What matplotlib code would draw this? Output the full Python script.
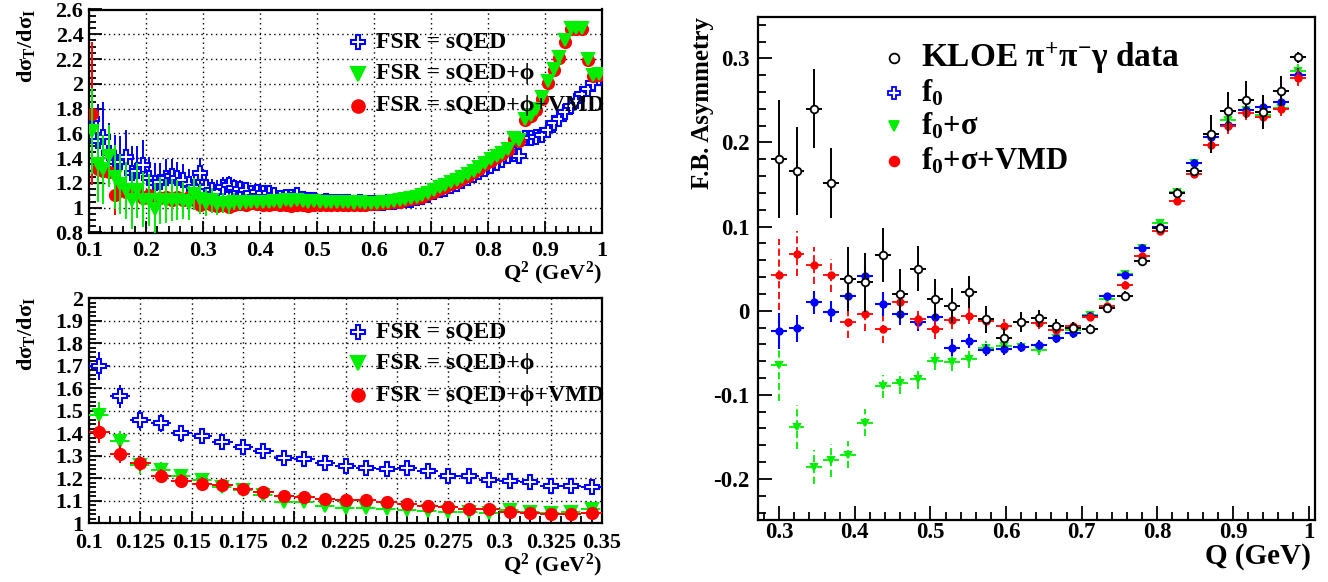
import numpy as np
import matplotlib
matplotlib.use('Agg')
import matplotlib.pyplot as plt
from matplotlib.ticker import MultipleLocator, FuncFormatter
from matplotlib.lines import Line2D

plt.rcParams['font.family'] = ['Liberation Serif', 'DejaVu Serif']
plt.rcParams['font.weight'] = 'bold'
plt.rcParams['mathtext.fontset'] = 'custom'
plt.rcParams['mathtext.rm'] = 'Liberation Serif:bold'
plt.rcParams['mathtext.it'] = 'Liberation Serif:bold'
plt.rcParams['mathtext.bf'] = 'Liberation Serif:bold'
plt.rcParams['mathtext.default'] = 'rm'

# ---------------- top-left panel: dsigma_T/dsigma_I vs Q^2 (0.1 - 1.0) ----------------
q2_top = [0.105, 0.115, 0.125, 0.135, 0.145, 0.155, 0.165, 0.175, 0.185, 0.195,
          0.205, 0.215, 0.225, 0.235, 0.245, 0.255, 0.265, 0.275, 0.285, 0.295,
          0.305, 0.315, 0.325, 0.335, 0.345, 0.355, 0.365, 0.375, 0.385, 0.395,
          0.405, 0.415, 0.425, 0.435, 0.445, 0.455, 0.465, 0.475, 0.485, 0.495,
          0.505, 0.515, 0.525, 0.535, 0.545, 0.555, 0.565, 0.575, 0.585, 0.595,
          0.605, 0.615, 0.625, 0.635, 0.645, 0.655, 0.665, 0.675, 0.685, 0.695,
          0.705, 0.715, 0.725, 0.735, 0.745, 0.755, 0.765, 0.775, 0.785, 0.795,
          0.805, 0.815, 0.825, 0.835, 0.845, 0.855, 0.865, 0.875, 0.885, 0.895,
          0.905, 0.915, 0.925, 0.935, 0.945, 0.955, 0.965, 0.975, 0.985, 0.995]
top_sqed = [1.72, 1.54, 1.57, 1.44, 1.37, 1.37, 1.41, 1.28, 1.30, 1.345,
            1.24, 1.20, 1.21, 1.24, 1.255, 1.24, 1.22, 1.19, 1.17, 1.28,
            1.165, 1.145, 1.13, 1.17, 1.18, 1.16, 1.15, 1.14, 1.12, 1.13,
            1.12, 1.12, 1.10, 1.08, 1.085, 1.09, 1.10, 1.07, 1.06, 1.065,
            1.05, 1.055, 1.05, 1.045, 1.05, 1.045, 1.04, 1.045, 1.04, 1.04,
            1.035, 1.04, 1.045, 1.05, 1.055, 1.06, 1.065, 1.075, 1.085, 1.10,
            1.125, 1.14, 1.15, 1.175, 1.19, 1.215, 1.24, 1.265, 1.285, 1.31,
            1.335, 1.36, 1.385, 1.415, 1.43, 1.42, 1.56, 1.565, 1.57, 1.59,
            1.63, 1.68, 1.72, 1.77, 1.82, 1.86, 1.92, 1.96, 2.005, 2.05]
top_sqed_err = [0.40, 0.30, 0.28, 0.24, 0.22, 0.21, 0.22, 0.22, 0.20, 0.20,
                0.17, 0.16, 0.15, 0.15, 0.14, 0.13, 0.13, 0.12, 0.12, 0.12,
                0.10, 0.09, 0.09, 0.08, 0.08, 0.07, 0.07, 0.06, 0.06, 0.05,
                0.05, 0.05, 0.04, 0.04, 0.035, 0.035, 0.03, 0.03, 0.03, 0.025,
                0.025, 0.02, 0.02, 0.02, 0.02, 0.02, 0.015, 0.015, 0.015, 0.015,
                0.015, 0.015, 0.015, 0.015, 0.015, 0.015, 0.015, 0.015, 0.015, 0.015,
                0.015, 0.015, 0.015, 0.015, 0.015, 0.015, 0.015, 0.015, 0.015, 0.015,
                0.015, 0.015, 0.015, 0.015, 0.015, 0.015, 0.015, 0.015, 0.015, 0.015,
                0.015, 0.015, 0.015, 0.015, 0.015, 0.015, 0.015, 0.015, 0.015, 0.015]
top_phi = [1.62, 1.35, 1.31, 1.42, 1.25, 1.19, 1.14, 1.06, 1.14, 1.065,
           1.065, 0.99, 1.06, 1.055, 1.06, 1.06, 1.055, 1.04, 1.11, 1.07,
           1.04, 1.06, 1.03, 1.04, 1.03, 1.05, 1.04, 1.05, 1.045, 1.05,
           1.05, 1.045, 1.055, 1.05, 1.06, 1.055, 1.06, 1.055, 1.05, 1.055,
           1.05, 1.05, 1.045, 1.05, 1.045, 1.045, 1.04, 1.045, 1.04, 1.04,
           1.04, 1.045, 1.05, 1.055, 1.06, 1.07, 1.08, 1.09, 1.10, 1.12,
           1.14, 1.165, 1.18, 1.205, 1.22, 1.245, 1.27, 1.30, 1.325, 1.36,
           1.39, 1.42, 1.445, 1.475, 1.565, 1.55, 1.72, 1.75, 1.80, 1.89,
           2.02, 2.12, 2.22, 2.35, 2.45, 2.45, 2.45, 2.20, 2.07, 2.08]
top_phi_err = [0.35, 0.30, 0.28, 0.25, 0.26, 0.24, 0.23, 0.23, 0.22, 0.22,
               0.21, 0.21, 0.19, 0.18, 0.17, 0.16, 0.15, 0.14, 0.13, 0.12,
               0.11, 0.10, 0.09, 0.08, 0.08, 0.07, 0.06, 0.06, 0.05, 0.05,
               0.045, 0.04, 0.04, 0.035, 0.03, 0.03, 0.03, 0.025, 0.025, 0.02,
               0.02, 0.02, 0.02, 0.015, 0.015, 0.015, 0.015, 0.015, 0.015, 0.015,
               0.015, 0.015, 0.015, 0.015, 0.015, 0.015, 0.015, 0.015, 0.015, 0.015,
               0.015, 0.015, 0.015, 0.015, 0.015, 0.015, 0.015, 0.015, 0.015, 0.015,
               0.015, 0.015, 0.015, 0.015, 0.015, 0.015, 0.015, 0.015, 0.015, 0.015,
               0.02, 0.02, 0.02, 0.02, 0.02, 0.02, 0.02, 0.02, 0.02, 0.02]
top_vmd = [1.76, 1.31, 1.30, 1.29, 1.10, 1.195, 1.13, 1.12, 1.14, 1.08,
           1.10, 1.07, 1.08, 1.09, 1.06, 1.09, 1.06, 1.085, 1.06, 1.025,
           1.04, 1.02, 1.01, 1.02, 1.005, 1.02, 1.03, 1.02, 1.035, 1.03,
           1.025, 1.02, 1.03, 1.025, 1.02, 1.015, 1.025, 1.02, 1.015, 1.02,
           1.02, 1.025, 1.02, 1.025, 1.02, 1.02, 1.025, 1.02, 1.025, 1.03,
           1.03, 1.035, 1.04, 1.045, 1.05, 1.06, 1.07, 1.08, 1.09, 1.11,
           1.13, 1.155, 1.17, 1.195, 1.21, 1.235, 1.26, 1.29, 1.315, 1.35,
           1.38, 1.41, 1.435, 1.465, 1.555, 1.54, 1.71, 1.74, 1.79, 1.88,
           2.01, 2.11, 2.21, 2.34, 2.44, 2.44, 2.44, 2.19, 2.06, 2.07]
top_vmd_err = [0.58, 0.08, 0.07, 0.07, 0.16, 0.10, 0.09, 0.14, 0.10, 0.08,
               0.08, 0.07, 0.07, 0.07, 0.06, 0.06, 0.06, 0.05, 0.05, 0.05,
               0.045, 0.04, 0.04, 0.04, 0.035, 0.035, 0.03, 0.03, 0.03, 0.03,
               0.025, 0.025, 0.025, 0.02, 0.02, 0.02, 0.02, 0.02, 0.02, 0.02,
               0.015, 0.015, 0.015, 0.015, 0.015, 0.015, 0.015, 0.015, 0.015, 0.015,
               0.015, 0.015, 0.015, 0.015, 0.015, 0.015, 0.015, 0.015, 0.015, 0.015,
               0.015, 0.015, 0.015, 0.015, 0.015, 0.015, 0.015, 0.015, 0.015, 0.015,
               0.015, 0.015, 0.015, 0.015, 0.015, 0.015, 0.015, 0.015, 0.015, 0.015,
               0.02, 0.02, 0.02, 0.02, 0.02, 0.02, 0.02, 0.02, 0.02, 0.02]

# ---------------- bottom-left panel: zoom 0.1 - 0.35 ----------------
q2_bot = [0.105, 0.115, 0.125, 0.135, 0.145, 0.155, 0.165, 0.175, 0.185, 0.195,
          0.205, 0.215, 0.225, 0.235, 0.245, 0.255, 0.265, 0.275, 0.285, 0.295,
          0.305, 0.315, 0.325, 0.335, 0.345]
bot_sqed = [1.70, 1.564, 1.46, 1.448, 1.40, 1.388, 1.361, 1.34, 1.32, 1.29,
            1.287, 1.269, 1.254, 1.246, 1.243, 1.246, 1.231, 1.209, 1.209, 1.191,
            1.19, 1.184, 1.164, 1.164, 1.161]
bot_sqed_err = [0.063, 0.05, 0.044, 0.04, 0.037, 0.035, 0.032, 0.03, 0.027, 0.022,
                0.02, 0.02, 0.018, 0.016, 0.015, 0.015, 0.014, 0.013, 0.012, 0.011,
                0.011, 0.01, 0.009, 0.009, 0.008]
bot_phi = [1.48, 1.366, 1.261, 1.236, 1.209, 1.194, 1.161, 1.146, 1.127, 1.093,
           1.093, 1.075, 1.07, 1.067, 1.063, 1.06, 1.055, 1.052, 1.052, 1.045,
           1.057, 1.052, 1.048, 1.052, 1.063]
bot_phi_err = [0.06, 0.045, 0.04, 0.035, 0.033, 0.03, 0.028, 0.026, 0.024, 0.022,
               0.02, 0.018, 0.017, 0.016, 0.015, 0.014, 0.013, 0.012, 0.011, 0.011,
               0.01, 0.01, 0.009, 0.009, 0.008]
bot_vmd = [1.406, 1.31, 1.266, 1.209, 1.187, 1.176, 1.172, 1.152, 1.137, 1.122,
           1.119, 1.109, 1.104, 1.104, 1.094, 1.087, 1.078, 1.072, 1.064, 1.063,
           1.052, 1.045, 1.042, 1.042, 1.048]
bot_vmd_err = [0.05, 0.04, 0.035, 0.032, 0.03, 0.028, 0.026, 0.024, 0.022, 0.02,
               0.018, 0.017, 0.016, 0.015, 0.014, 0.013, 0.012, 0.011, 0.011, 0.01,
               0.01, 0.009, 0.009, 0.008, 0.008]

# ---------------- right panel: F.B. asymmetry vs Q ----------------
q_fb = [0.300, 0.323, 0.346, 0.369, 0.391, 0.414, 0.437, 0.460, 0.483, 0.506,
        0.529, 0.551, 0.574, 0.597, 0.620, 0.643, 0.666, 0.689, 0.711, 0.734,
        0.757, 0.780, 0.803, 0.826, 0.849, 0.871, 0.894, 0.917, 0.940, 0.963, 0.986]
fb_data = [0.180, 0.166, 0.240, 0.152, 0.038, 0.034, 0.066, 0.020, 0.050, 0.014,
           0.006, 0.022, -0.010, -0.032, -0.013, -0.009, -0.018, -0.020, -0.022, 0.003,
           0.018, 0.059, 0.098, 0.140, 0.166, 0.210, 0.237, 0.251, 0.236, 0.261, 0.301]
fb_data_err = [0.070, 0.052, 0.047, 0.042, 0.038, 0.035, 0.032, 0.030, 0.027, 0.024,
               0.021, 0.019, 0.016, 0.012, 0.012, 0.010, 0.008, 0.007, 0.006, 0.005,
               0.005, 0.004, 0.004, 0.006, 0.005, 0.023, 0.023, 0.022, 0.020, 0.018, 0.006]
fb_f0 = [-0.024, -0.021, 0.010, -0.001, 0.018, 0.041, 0.008, -0.004, -0.014, -0.008,
         -0.044, -0.036, -0.047, -0.046, -0.043, -0.041, -0.033, -0.027, -0.006, 0.017,
         0.043, 0.075, 0.099, 0.140, 0.176, 0.206, 0.221, 0.238, 0.242, 0.248, 0.280]
fb_f0_err = [0.021, 0.016, 0.014, 0.013, 0.015, 0.013, 0.014, 0.013, 0.010, 0.010,
             0.010, 0.008, 0.007, 0.007, 0.006, 0.006, 0.005, 0.006, 0.004, 0.004,
             0.004, 0.004, 0.004, 0.004, 0.004, 0.006, 0.008, 0.008, 0.010, 0.008, 0.008]
fb_f0s = [-0.064, -0.138, -0.186, -0.178, -0.171, -0.133, -0.090, -0.086, -0.081, -0.060,
          -0.061, -0.058, -0.044, -0.042, -0.043, -0.047, -0.033, -0.023, -0.005, 0.014,
          0.044, 0.075, 0.104, 0.141, 0.176, 0.207, 0.227, 0.239, 0.233, 0.241, 0.285]
fb_f0s_err = [0.043, 0.026, 0.020, 0.020, 0.016, 0.016, 0.014, 0.013, 0.012, 0.010,
              0.011, 0.010, 0.008, 0.008, 0.006, 0.006, 0.005, 0.005, 0.004, 0.004,
              0.004, 0.004, 0.004, 0.004, 0.004, 0.006, 0.008, 0.008, 0.010, 0.008, 0.008]
fb_vmd = [0.043, 0.068, 0.054, 0.042, -0.014, -0.004, -0.022, 0.010, -0.010, -0.022,
          -0.011, -0.006, -0.012, -0.018, -0.014, -0.015, -0.023, -0.018, -0.008, 0.005,
          0.031, 0.065, 0.095, 0.131, 0.163, 0.197, 0.220, 0.235, 0.230, 0.240, 0.277]
fb_vmd_err = [0.042, 0.027, 0.022, 0.020, 0.018, 0.020, 0.016, 0.015, 0.012, 0.012,
              0.011, 0.010, 0.009, 0.008, 0.008, 0.007, 0.006, 0.006, 0.004, 0.004,
              0.004, 0.004, 0.004, 0.004, 0.004, 0.010, 0.010, 0.008, 0.010, 0.008, 0.010]

BLUE = '#0000ff'
GREEN = '#00ee00'
RED = '#ff0000'

W, H = 1328, 582
fig = plt.figure(figsize=(W / 100, H / 100), dpi=100)


def box(l, t, r, b):
    return [l / W, 1 - b / H, (r - l) / W, (b - t) / H]


def fx(x):
    return x / W


def fy(y):
    return 1 - y / H


def fmt_g(v, pos):
    s = ('%.3f' % v).rstrip('0').rstrip('.')
    if s == '-0':
        s = '0'
    return s


def style_axes(ax, xmaj, xmin, ymaj, ymin, fs, xpad=6, ypad=4, grid=True):
    for sp in ax.spines.values():
        sp.set_linewidth(1.6)
    ax.xaxis.set_major_locator(MultipleLocator(xmaj))
    ax.xaxis.set_minor_locator(MultipleLocator(xmin))
    ax.yaxis.set_major_locator(MultipleLocator(ymaj))
    ax.yaxis.set_minor_locator(MultipleLocator(ymin))
    ax.xaxis.set_major_formatter(FuncFormatter(fmt_g))
    ax.yaxis.set_major_formatter(FuncFormatter(fmt_g))
    ax.tick_params(which='both', direction='in', top=False, right=False,
                   width=1.3, labelsize=fs)
    ax.tick_params(which='major', length=9)
    ax.tick_params(which='minor', length=5)
    ax.tick_params(axis='x', which='major', pad=xpad)
    ax.tick_params(axis='y', which='major', pad=ypad)
    for t in ax.get_xticklabels() + ax.get_yticklabels():
        t.set_fontweight('bold')
    if grid:
        ax.grid(True, which='major', color='black', linestyle=(0, (1, 2.5)), linewidth=1.0)
        ax.set_axisbelow(True)


def eb(ax, x, y, yerr, xerr, color, marker, ms, mfc, xls='-', yls='-', z=3, mew=1.5, lw=1.4):
    c = ax.errorbar(x, y, yerr=yerr, xerr=xerr, fmt=marker, color=color, ms=ms,
                    mfc=mfc, mec=color, mew=mew, elinewidth=lw, capsize=0, zorder=z)
    bars = c[2]
    if xerr is not None and len(bars) > 0:
        bars[0].set_linestyle(xls)
        if len(bars) > 1:
            bars[1].set_linestyle(yls)
    return c


# ================= top-left =================
ax1 = fig.add_axes(box(89, 9.5, 602, 232.5))
ax1.set_xlim(0.1, 1.0)
ax1.set_ylim(0.8, 2.6)
style_axes(ax1, 0.1, 0.02, 0.2, 0.05, 16)
eb(ax1, q2_top, top_sqed, top_sqed_err, None, BLUE, 'P', 10, 'white', z=3, mew=1.5)
eb(ax1, q2_top, top_vmd, top_vmd_err, None, RED, 'o', 8, RED, z=4)
eb(ax1, q2_top, top_phi, top_phi_err, None, GREEN, 'v', 9, GREEN, z=5)
fig.text(fx(26), fy(9), r'd$\sigma_{T}$/d$\sigma_{I}$', rotation=90, ha='center', va='top',
         fontsize=16, fontweight='bold')
fig.text(fx(602), fy(273), r'Q$^{2}$ (GeV$^{2}$)', ha='right', va='center', fontsize=16,
         fontweight='bold')

# ================= bottom-left =================
ax2 = fig.add_axes(box(89, 298.3, 602, 523.3))
ax2.set_xlim(0.1, 0.35)
ax2.set_ylim(1.0, 2.0)
style_axes(ax2, 0.025, 0.005, 0.1, 0.02, 16, xpad=7.2)
half = [0.005] * len(q2_bot)
eb(ax2, q2_bot, bot_sqed, bot_sqed_err, half, BLUE, 'P', 10, 'white', z=3, mew=1.5)
eb(ax2, q2_bot, bot_phi, bot_phi_err, half, GREEN, 'v', 9, GREEN, xls=(0, (4, 2)), z=4)
eb(ax2, q2_bot, bot_vmd, bot_vmd_err, half, RED, 'o', 8, RED, z=5)
fig.text(fx(26), fy(297), r'd$\sigma_{T}$/d$\sigma_{I}$', rotation=90, ha='center', va='top',
         fontsize=16, fontweight='bold')
fig.text(fx(602), fy(565), r'Q$^{2}$ (GeV$^{2}$)', ha='right', va='center', fontsize=16,
         fontweight='bold')

# legends of left panels
leg_labels = ['FSR = sQED', 'FSR = sQED+ϕ', 'FSR = sQED+ϕ+VMD']
leg_style = [(BLUE, 'P', 10, 'white'), (GREEN, 'v', 10, GREEN), (RED, 'o', 9, RED)]
for ys in ([42, 74, 106], [332, 363, 395]):
    for yy, lab, (col, mk, ms, mfc) in zip(ys, leg_labels, leg_style):
        fig.add_artist(Line2D([fx(358)], [fy(yy)], transform=fig.transFigure, marker=mk,
                              ms=ms, mfc=mfc, mec=col, mew=1.5, linestyle='none', zorder=10))
        fig.text(fx(376), fy(yy), lab, ha='left', va='center', fontsize=17,
                 fontweight='bold', zorder=10)

# ================= right =================
ax3 = fig.add_axes(box(757.6, 16.7, 1315, 520))
ax3.set_xlim(0.2715, 1.0085)
ax3.set_ylim(-0.2488, 0.3495)
style_axes(ax3, 0.1, 0.02, 0.1, 0.02, 16.5, xpad=1.5, ypad=6, grid=False)
ax3.tick_params(which='major', length=10)
ax3.tick_params(which='minor', length=6)
hq = [0.0105] * len(q_fb)
eb(ax3, q_fb, fb_f0s, fb_f0s_err, hq, GREEN, 'v', 4.5, GREEN, xls=(0, (4, 2)), yls=(0, (4, 2)), z=3, lw=1.3)
eb(ax3, q_fb, fb_f0, fb_f0_err, hq, BLUE, 'o', 4.5, BLUE, z=4, lw=1.5)
eb(ax3, q_fb, fb_vmd, fb_vmd_err, hq, RED, 'o', 4.5, RED, xls=(0, (4, 2)), yls=(0, (4, 2)), z=5, lw=1.3)
eb(ax3, q_fb, fb_data, fb_data_err, hq, 'black', 'o', 5.5, 'white', z=6, lw=1.4, mew=1.3)
fig.text(fx(702), fy(17), 'F.B. Asymmetry', rotation=90, ha='center', va='top',
         fontsize=18, fontweight='bold')
fig.text(fx(1311), fy(556), 'Q (GeV)', ha='right', va='center', fontsize=21, fontweight='bold')

r_labels = [r'KLOE $\pi^{+}\pi^{-}\gamma$ data', r'f$_{0}$', r'f$_{0}$+$\sigma$', r'f$_{0}$+$\sigma$+VMD']
r_style = [('black', 'o', 7, 'white'), (BLUE, 'P', 8, 'white'), (GREEN, 'v', 7, GREEN), (RED, 'o', 7, RED)]
for yy, lab, (col, mk, ms, mfc) in zip([58, 93, 126, 161], r_labels, r_style):
    fig.add_artist(Line2D([fx(894)], [fy(yy)], transform=fig.transFigure, marker=mk,
                          ms=ms, mfc=mfc, mec=col, mew=1.3, linestyle='none', zorder=10))
    fs = 24 if yy == 58 else 22
    fig.text(fx(921), fy(yy), lab, ha='left', va='center', fontsize=fs,
             fontweight='bold', zorder=10)

fig.savefig('out.png', dpi=100)
